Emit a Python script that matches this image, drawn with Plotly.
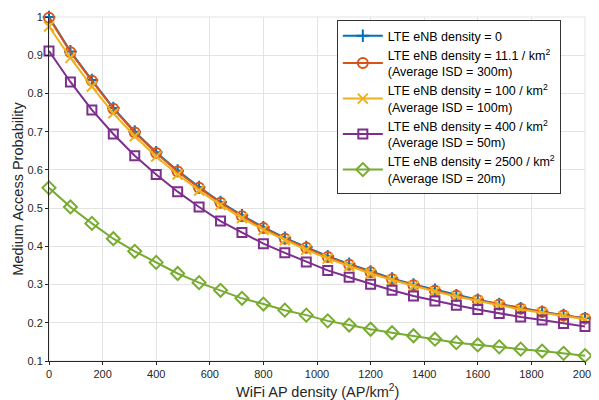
import plotly.graph_objects as go

x_vals = [0, 80, 160, 240, 320, 400, 480, 560, 640, 720, 800, 880, 960, 1040,
          1120, 1200, 1280, 1360, 1440, 1520, 1600, 1680, 1760, 1840, 1920, 2000]

p_0 = [1.0, 0.91, 0.835, 0.762, 0.70, 0.646, 0.598, 0.555, 0.516, 0.481, 0.450, 0.422,
       0.398, 0.374, 0.354, 0.334, 0.316, 0.300, 0.286, 0.272, 0.260, 0.249, 0.238,
       0.229, 0.220, 0.212]
p_11 = [0.998, 0.908, 0.833, 0.760, 0.698, 0.644, 0.596, 0.553, 0.514, 0.479, 0.448, 0.420,
        0.396, 0.372, 0.352, 0.332, 0.314, 0.298, 0.284, 0.271, 0.259, 0.248, 0.237,
        0.228, 0.219, 0.211]
p_100 = [0.975, 0.893, 0.818, 0.748, 0.688, 0.635, 0.588, 0.546, 0.508, 0.474, 0.443, 0.416,
         0.391, 0.368, 0.348, 0.329, 0.312, 0.296, 0.282, 0.269, 0.257, 0.246, 0.235,
         0.226, 0.217, 0.209]
p_400 = [0.911, 0.830, 0.757, 0.694, 0.637, 0.588, 0.543, 0.503, 0.466, 0.436, 0.407, 0.383,
         0.359, 0.337, 0.319, 0.301, 0.285, 0.270, 0.257, 0.246, 0.235, 0.224, 0.215,
         0.207, 0.198, 0.190]
p_2500 = [0.553, 0.503, 0.460, 0.420, 0.387, 0.358, 0.329, 0.305, 0.285, 0.264, 0.249, 0.233,
          0.220, 0.205, 0.194, 0.183, 0.174, 0.166, 0.157, 0.148, 0.142, 0.137, 0.131,
          0.126, 0.120, 0.114]

names = [
    "LTE eNB density = 0",
    "LTE eNB density = 11.1 / km<sup>2</sup><br>(Average ISD = 300m)",
    "LTE eNB density = 100 / km<sup>2</sup><br>(Average ISD = 100m)",
    "LTE eNB density = 400 / km<sup>2</sup><br>(Average ISD = 50m)",
    "LTE eNB density = 2500 / km<sup>2</sup><br>(Average ISD = 20m)",
]
colors = ["#0072BD", "#D95319", "#EDB120", "#7E2F8E", "#77AC30"]
symbols = ["cross-thin-open", "circle-open", "x-thin-open", "square-open", "diamond-open"]
sizes = [9, 10, 10, 9, 10]

y_ticks = [0.1, 0.2, 0.3, 0.4, 0.5, 0.6, 0.7, 0.8, 0.9, 1.0]
y_ticktext = ["0.1", "0.2", "0.3", "0.4", "0.5", "0.6", "0.7", "0.8", "0.9", "1"]
x_ticks = [0, 200, 400, 600, 800, 1000, 1200, 1400, 1600, 1800, 2000]
x_title = "WiFi AP density (AP/km<sup>2</sup>)"
y_title = "Medium Access Probability"

fig = go.Figure()
for ys, name, c, s, sz in zip([p_0, p_11, p_100, p_400, p_2500], names, colors, symbols, sizes):
    fig.add_trace(go.Scatter(
        x=x_vals, y=ys, name=name, mode="lines+markers", cliponaxis=False,
        line=dict(color=c, width=2),
        marker=dict(symbol=s, size=sz, color=c, line=dict(color=c, width=2)),
    ))

font_family = "Liberation Sans, Arial, sans-serif"
# page body has an 8px margin, so the figure is offset by 8px
fig.update_layout(
    width=591, height=392,
    margin=dict(l=41, r=14, t=9, b=39),
    paper_bgcolor="white", plot_bgcolor="white",
    font=dict(family=font_family, size=11, color="#262626"),
    showlegend=True,
    legend=dict(
        x=0.537, y=0.991, xanchor="left", yanchor="top",
        bgcolor="white", bordercolor="#333333", borderwidth=1,
        font=dict(size=12.5, color="#000000"),
        tracegroupgap=0, itemwidth=40,
    ),
    xaxis=dict(
        range=[0, 2000], tickvals=x_ticks, automargin=False,
        ticklabeloverflow="allow",
        showgrid=True, gridcolor="#E3E3E3", gridwidth=1,
        showline=True, linecolor="#262626", linewidth=1,
        ticks="outside", ticklen=3, tickcolor="#262626",
        mirror=False, zeroline=False,
        tickfont=dict(size=11, color="#262626"),
    ),
    yaxis=dict(
        range=[0.1, 1.0], tickvals=y_ticks, ticktext=y_ticktext, automargin=False,
        showgrid=True, gridcolor="#E3E3E3", gridwidth=1,
        showline=True, linecolor="#262626", linewidth=1,
        ticks="outside", ticklen=3, tickcolor="#262626",
        mirror=False, zeroline=False,
        tickfont=dict(size=11, color="#262626"),
        title=dict(text=y_title, font=dict(size=14.5, color="#262626"), standoff=0),
    ),
)
fig.add_annotation(text=x_title, xref="paper", yref="paper", x=0.5, y=0,
                   xanchor="center", yanchor="top", yshift=-19, showarrow=False,
                   font=dict(size=14.5, color="#262626"))
fig.add_shape(type="rect", xref="paper", yref="paper", x0=0, y0=0, x1=1, y1=1,
              line=dict(color="#E3E3E3", width=1), layer="below")

fig.write_html("out.html")
